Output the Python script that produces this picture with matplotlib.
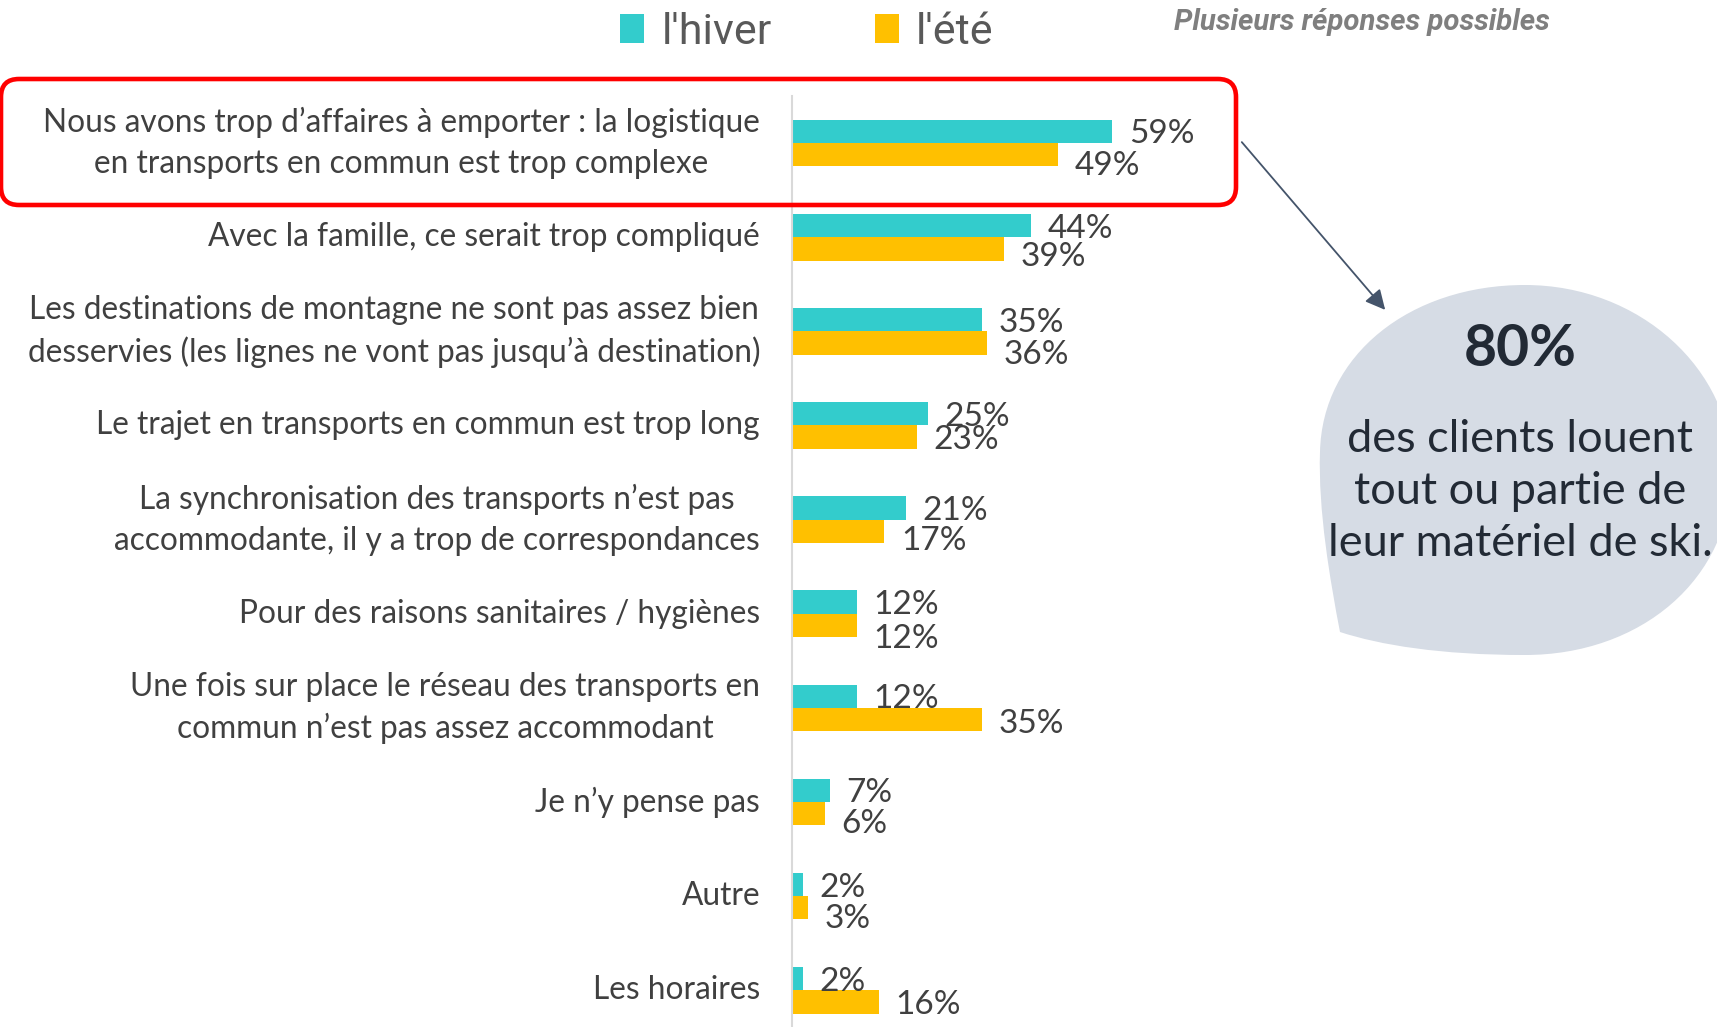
import matplotlib
matplotlib.use("Agg")
import matplotlib.pyplot as plt
from matplotlib.patches import FancyBboxPatch, PathPatch, FancyArrowPatch
from matplotlib.path import Path

categories = [
    "Nous avons trop d’affaires à emporter : la logistique\nen transports en commun est trop complexe",
    "Avec la famille, ce serait trop compliqué",
    "Les destinations de montagne ne sont pas assez bien\ndesservies (les lignes ne vont pas jusqu’à destination)",
    "Le trajet en transports en commun est trop long",
    "La synchronisation des transports n’est pas\naccommodante, il y a trop de correspondances",
    "Pour des raisons sanitaires / hygiènes",
    "Une fois sur place le réseau des transports en\ncommun n’est pas assez accommodant",
    "Je n’y pense pas",
    "Autre",
    "Les horaires",
]
hiver = [59, 44, 35, 25, 21, 12, 12, 7, 2, 2]
ete = [49, 39, 36, 23, 17, 12, 35, 6, 3, 16]
series_names = ["l'hiver", "l'été"]

# downward nudges (points) of the summer value labels, as placed in the original
ete_label_nudge = [8.4, 6.1, 8.4, 2.1, 6.9, 10.0, 2.9, 7.6, 8.4, 2.1]

TEAL = "#33cccc"
GOLD = "#ffc000"
TXT = "#404040"
FONT = ["Lato", "DejaVu Sans"]

W, H = 1717, 1027
fig = plt.figure(figsize=(W / 100, H / 100), dpi=100)
ax = fig.add_axes([792 / W, 0, 434 / W, (H - 96) / H])

ypos = list(range(len(categories)))
bh = 0.248
b1 = ax.barh([y - bh / 2 for y in ypos], hiver, height=bh, color=TEAL, label=series_names[0])
b2 = ax.barh([y + bh / 2 for y in ypos], ete, height=bh, color=GOLD, label=series_names[1])

for y, v in zip(ypos, hiver):
    ax.annotate(f"{v}%", (v, y - bh / 2), xytext=(12, -2.2), textcoords="offset points",
                ha="left", va="center", fontsize=24, color=TXT, family=FONT)
for y, v, dn in zip(ypos, ete, ete_label_nudge):
    ax.annotate(f"{v}%", (v, y + bh / 2), xytext=(12, -dn), textcoords="offset points",
                ha="left", va="center", fontsize=24, color=TXT, family=FONT)

ax.set_xlim(0, 80)
ax.set_ylim(9.39, -0.5)
ax.set_yticks(ypos)
ax.set_yticklabels(categories)
for t in ax.get_yticklabels():
    t.set_multialignment("center")
    t.set_verticalalignment("center")
    t.set_fontsize(22.8)
    t.set_color(TXT)
    t.set_family(FONT)
    t.set_linespacing(1.45)
ax.tick_params(axis="y", length=0, pad=23)
ax.set_xticks([])
for s in ["top", "right", "bottom"]:
    ax.spines[s].set_visible(False)
ax.spines["left"].set_color("#d9d9d9")
ax.spines["left"].set_linewidth(1.5)

leg = fig.legend(handles=[b1, b2], labels=series_names, loc="center",
                 bbox_to_anchor=(807 / W, 1 - 32 / H), ncol=2, frameon=False,
                 handlelength=0.55, handleheight=0.65, handletextpad=0.4, columnspacing=2.4,
                 prop={"family": ["Roboto", "DejaVu Sans"], "size": 31})
for t in leg.get_texts():
    t.set_color("#595959")

# overlay in pixel coordinates for annotations
ov = fig.add_axes([0, 0, 1, 1], zorder=5)
ov.set_xlim(0, W)
ov.set_ylim(H, 0)
ov.axis("off")

ov.text(1174, 22, "Plusieurs réponses possibles", ha="left", va="center",
        fontsize=21.2, fontweight="bold", fontstyle="italic", color="#7f7f7f",
        family=["Roboto", "DejaVu Sans"])

box = FancyBboxPatch((1, 79), 1235, 126, boxstyle="round,pad=0,rounding_size=18",
                     fill=False, edgecolor="#ff0000", linewidth=3.3)
ov.add_patch(box)

arr = FancyArrowPatch((1240, 140), (1387, 312), arrowstyle="-|>,head_length=12,head_width=6",
                      mutation_scale=1, color="#44546a", linewidth=1.3)
ov.add_patch(arr)

verts = [
    (1340, 632),
    (1330, 580), (1318, 510), (1320, 452),
    (1322, 355), (1410, 285), (1525, 285),
    (1640, 285), (1732, 370), (1732, 470),
    (1732, 580), (1640, 655), (1525, 655),
    (1440, 655), (1380, 645), (1340, 632),
    (1340, 632),
]
codes = [Path.MOVETO] + [Path.CURVE4] * 15 + [Path.CLOSEPOLY]
ov.add_patch(PathPatch(Path(verts, codes), facecolor="#d6dce5", edgecolor="none"))

NAVY = "#222a35"
ov.text(1520, 350, "80%", ha="center", va="center", fontsize=41, fontweight="bold",
        color=NAVY, family=FONT)
for yy, line in zip([440, 492, 544], ["des clients louent", "tout ou partie de", "leur matériel de ski."]):
    ov.text(1520, yy, line, ha="center", va="center", fontsize=32.5, color=NAVY, family=FONT)

fig.savefig("out.png", dpi=100)
